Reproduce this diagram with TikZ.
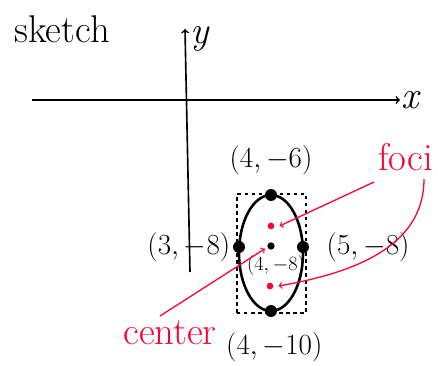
\documentclass[tikz,border=0pt]{standalone}
\usepackage{fontspec}
\usetikzlibrary{positioning}
\begin{document}
\begin{tikzpicture}[x=0.3cm, y=0.3cm,
    every node/.style={font=\fontsize{24}{26}\selectfont},
    big/.style={font=\fontsize{33}{36}\selectfont},
    vertex/.style={circle, fill=black, inner sep=0pt, minimum size=0.36cm},
    focus/.style={circle, fill=red!80!magenta, inner sep=0pt, minimum size=0.2cm},
    note/.style={red!80!magenta, line width=1.1pt}]
    \useasboundingbox (0,0) rectangle (43.8,36.5);
    % Title
    \node[big] (title) at (6.2,33.6) {sketch};
    % Axes
    \coordinate (xstart) at (3.2,26.5);
    \coordinate (xend) at (40,26.5);
    \coordinate (ystart) at (19.0,9.3);
    \coordinate (yend) at (18.5,33.6);
    \draw[->, line width=1.4pt] (xstart) -- (xend) node[right, inner sep=1pt, big] (xlbl) {\itshape x};
    \draw[->, line width=1.4pt] (ystart) -- (yend) node[right, inner sep=4pt, yshift=-0.3cm, big] (ylbl) {\itshape y};
    % Ellipse and box
    \draw[dashed, line width=1.2pt] (23.7,5.2) rectangle (30.6,17.1);
    \draw[line width=2.2pt] (27.1,11.2) ellipse [x radius=3.2, y radius=5.8];
    % Vertices
    \node[vertex] (top) at (27.1,17.0) {};
    \node[vertex] (bottom) at (27.1,5.4) {};
    \node[vertex] (left) at (23.9,11.8) {};
    \node[vertex] (right) at (30.3,11.8) {};
    \node[circle, fill=black, inner sep=0pt, minimum size=0.22cm] (center) at (27.1,11.9) {};
    % Foci
    \node[focus] (f1) at (27.1,13.9) {};
    \node[focus] (f2) at (27.0,7.9) {};
    % Labels
    \node[above=0.3cm of top] (toplbl) {$(4,-6)$};
    \node[below=0.35cm of bottom, xshift=0.1cm] (bottomlbl) {$(4,-10)$};
    \node[left=-0.05cm of left] (leftlbl) {$(3,-8)$};
    \node[right=0.4cm of right] (rightlbl) {$(5,-8)$};
    \node[below=0.05cm of center, xshift=0.15cm, font=\fontsize{17}{19}\selectfont] (centerlbl) {$(4,-8)$};
    % Notes in red
    \node[red!80!magenta, big, anchor=east] (focilbl) at (43.7,20.8) {foci};
    \node[red!80!magenta, big] (centernote) at (17.0,3.2) {center};
    \coordinate (focistart) at (37.4,18.3);
    \coordinate (focibend) at (42.4,18.6);
    \coordinate (centerstart) at (16,4.9);
    \draw[note, ->] (focistart) -- ([xshift=0.15cm]f1.east);
    \draw[note, ->] (focibend) to[out=-90, in=10] ([xshift=0.15cm]f2.east);
    \draw[note, ->] (centerstart) -- ([xshift=-0.1cm]center.south west);
\end{tikzpicture}
\end{document}
